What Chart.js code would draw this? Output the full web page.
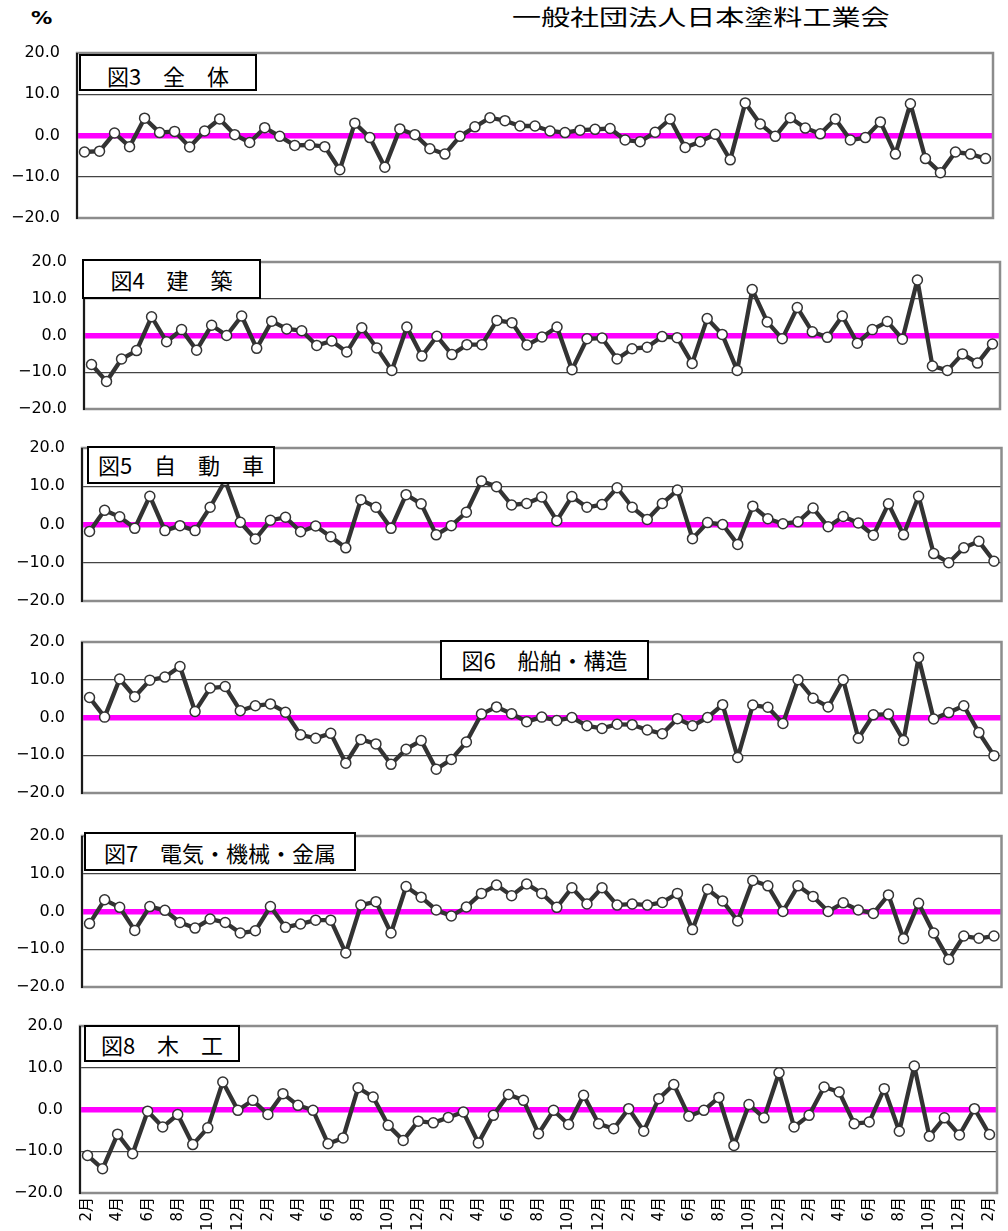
<!DOCTYPE html>
<html><head><meta charset="utf-8">
<script src="https://cdn.jsdelivr.net/npm/chart.js@4/dist/chart.umd.min.js"></script>
<style>
body{margin:0;background:#fff;width:1008px;height:1231px;position:relative;overflow:hidden;}
canvas{position:absolute;left:0;z-index:1;}
.tb{position:absolute;z-index:5;border:2px solid #000;background:#fff;box-sizing:border-box;font-family:'Noto Sans CJK JP';font-size:22px;line-height:22px;text-align:center;color:#000;white-space:nowrap;}
.tb span{position:relative;display:inline-block;}
#pct{position:absolute;left:31px;top:10px;font-family:'DejaVu Sans';font-weight:bold;font-size:17px;line-height:17px;transform:scaleX(1.25);transform-origin:left top;}
#org{position:absolute;left:512px;top:4px;font-family:'Noto Sans CJK JP';font-size:22px;line-height:22px;transform:scaleX(1.32);transform-origin:left top;white-space:nowrap;}
</style></head><body>
<div id="pct">%</div>
<div id="org">一般社団法人日本塗料工業会</div>
<div class="tb" style="left:79px;top:54px;width:178px;height:37px;"><span style="top:8px">図3　全　体</span></div>
<div class="tb" style="left:82px;top:259px;width:179px;height:40px;"><span style="top:7px">図4　建　築</span></div>
<div class="tb" style="left:87px;top:446px;width:188px;height:38px;"><span style="top:5px">図5　自　動　車</span></div>
<div class="tb" style="left:440px;top:640px;width:209px;height:40px;"><span style="top:6px">図6　船舶・構造</span></div>
<div class="tb" style="left:84px;top:832px;width:272px;height:39px;"><span style="top:7px">図7　電気・機械・金属</span></div>
<div class="tb" style="left:84px;top:1025px;width:156px;height:37px;"><span style="top:6px">図8　木　工</span></div>
<script>
const months = ["2月","3月","4月","5月","6月","7月","8月","9月","10月","11月","12月","1月",
"2月","3月","4月","5月","6月","7月","8月","9月","10月","11月","12月","1月",
"2月","3月","4月","5月","6月","7月","8月","9月","10月","11月","12月","1月",
"2月","3月","4月","5月","6月","7月","8月","9月","10月","11月","12月","1月",
"2月","3月","4月","5月","6月","7月","8月","9月","10月","11月","12月","1月",
"2月"];

const yTicks = [-20, -10, 0, 10, 20];

const zentai = [-4.0,-3.8,0.6,-2.7,4.2,0.7,1.0,-2.8,1.1,4.0,
0.2,-1.7,1.9,-0.2,-2.4,-2.3,-2.7,-8.3,3.0,-0.5,
-7.7,1.6,0.2,-3.2,-4.5,-0.2,2.1,4.3,3.6,2.3,
2.3,1.1,0.7,1.3,1.5,1.7,-1.1,-1.5,0.8,4.0,
-2.9,-1.5,0.3,-5.9,7.9,2.8,-0.2,4.3,1.8,0.4,
4.0,-1.1,-0.5,3.3,-4.5,7.7,-5.6,-9.0,-4.0,-4.5,-5.6];

const kenchiku = [-7.9,-12.5,-6.4,-4.1,5.1,-1.7,1.6,-4.0,2.8,0.0,
5.3,-3.5,3.9,1.8,1.3,-2.7,-1.5,-4.5,2.1,-3.4,
-9.5,2.3,-5.6,-0.2,-5.2,-2.5,-2.5,4.1,3.5,-2.6,
-0.4,2.3,-9.3,-0.9,-0.7,-6.4,-3.6,-3.2,-0.3,-0.6,
-7.6,4.6,0.3,-9.5,12.5,3.7,-0.9,7.6,1.0,-0.5,
5.3,-2.1,1.6,3.8,-1.0,15.1,-8.3,-9.5,-5.0,-7.5,-2.3];

const jidosha = [-1.8,3.7,2.0,-1.0,7.4,-1.6,-0.3,-1.6,4.5,11.5,
0.6,-3.8,1.1,1.9,-1.9,-0.4,-3.2,-6.1,6.5,4.5,
-1.0,7.8,5.4,-2.7,-0.3,3.2,11.4,9.9,5.1,5.5,
7.2,1.0,7.3,4.5,5.2,9.6,4.5,1.3,5.5,9.0,
-3.7,0.5,0.0,-5.2,4.8,1.5,0.2,0.7,4.3,-0.6,
2.1,0.4,-2.8,5.4,-2.7,7.4,-7.6,-10.0,-6.1,-4.4,-9.6];

const senpaku = [5.3,0.1,10.2,5.5,9.9,10.7,13.5,1.6,7.8,8.2,
1.8,3.1,3.6,1.4,-4.6,-5.5,-4.2,-12.1,-5.8,-7.0,
-12.4,-8.4,-6.1,-13.7,-11.1,-6.5,0.9,2.8,1.0,-1.1,
0.1,-0.8,0.0,-2.2,-2.9,-1.8,-1.9,-3.3,-4.3,-0.3,
-2.2,0.0,3.4,-10.6,3.3,2.7,-1.6,10.0,5.1,2.8,
10.0,-5.5,0.7,0.9,-6.1,15.9,-0.4,1.3,3.1,-4.0,-10.1];

const denki = [-3.2,3.1,1.1,-5.0,1.3,0.3,-2.9,-4.4,-2.0,-2.9,
-5.7,-5.1,1.3,-4.2,-3.3,-2.3,-2.3,-11.0,1.7,2.6,
-5.7,6.6,3.8,0.4,-1.2,1.2,4.8,7.0,4.2,7.3,
4.8,1.1,6.3,2.0,6.3,1.7,2.0,1.7,2.4,4.8,
-4.8,5.9,2.8,-2.5,8.2,6.8,0.0,6.8,4.0,0.0,
2.3,0.4,-0.5,4.4,-7.2,2.2,-5.7,-12.7,-6.5,-7.1,-6.5];

const mokko = [-11.0,-14.2,-5.9,-10.6,-0.4,-4.2,-1.2,-8.4,-4.4,6.6,
-0.2,2.2,-1.2,3.8,1.0,-0.2,-8.2,-6.8,5.2,3.0,
-3.8,-7.4,-2.8,-3.2,-1.9,-0.6,-8.0,-1.4,3.6,2.2,
-5.8,-0.2,-3.6,3.4,-3.4,-4.6,0.2,-5.2,2.6,6.0,
-1.6,-0.2,2.9,-8.6,1.2,-2.0,8.8,-4.2,-1.4,5.4,
4.2,-3.4,-3.0,5.0,-5.2,10.4,-6.4,-2.0,-6.1,0.2,-6.0];

// layout (plot-area edges in page pixels)
const panels = [
  {data: zentai,   L:77, R:993,  T:53,  B:218},
  {data: kenchiku, L:84, R:1000, T:262, B:409},
  {data: jidosha,  L:82, R:1003, T:448, B:601},
  {data: senpaku,  L:82, R:1003, T:642, B:793},
  {data: denki,    L:82, R:1003, T:836, B:987},
  {data: mokko,    L:80, R:997,  T:1026,B:1193}
];

const framePlugin = {
  id: 'frame',
  beforeDatasetsDraw(chart) {
    const {ctx, chartArea: a} = chart;
    ctx.save();
    ctx.strokeStyle = '#8c8c8c';
    ctx.lineWidth = 2.5;
    ctx.strokeRect(a.left, a.top, a.right - a.left, a.bottom - a.top);
    ctx.strokeStyle = '#1a1a1a';
    ctx.lineWidth = 2;
    ctx.beginPath();
    ctx.moveTo(a.left, a.top);
    ctx.lineTo(a.left, a.bottom + 1);
    ctx.stroke();
    ctx.restore();
  }
};

function zeroPad(s) {
  s.paddingTop = 0; s.paddingBottom = 0; s.paddingLeft = 0; s.paddingRight = 0;
}

const firstBox = document.querySelector('.tb');
panels.forEach((p, idx) => {
  const showX = idx === panels.length - 1;
  const pad = 14;
  const top = p.T - pad;
  const h = showX ? 1231 - top : (p.B - p.T) + 2 * pad;
  const cv = document.createElement('canvas');
  cv.style.top = top + 'px';
  cv.style.width = '1008px';
  cv.style.height = h + 'px';
  cv.width = 1008; cv.height = h;
  document.body.insertBefore(cv, firstBox);
  new Chart(cv, {
    type: 'line',
    data: {
      labels: months,
      datasets: [{
        data: p.data,
        borderColor: '#333333',
        borderWidth: 4.3,
        borderJoinStyle: 'round',
        borderCapStyle: 'round',
        tension: 0,
        pointRadius: 5,
        pointBorderWidth: 1.5,
        pointBackgroundColor: '#ffffff',
        pointBorderColor: '#333333',
        clip: false
      }]
    },
    options: {
      responsive: false,
      animation: false,
      events: [],
      layout: {padding: {left: 0, right: 1008 - p.R, top: pad, bottom: showX ? 0 : pad}},
      plugins: {legend: {display: false}, tooltip: {enabled: false}},
      scales: {
        x: {
          type: 'category',
          offset: true,
          display: showX,
          grid: {display: false, drawTicks: false},
          border: {display: false},
          ticks: {
            autoSkip: false,
            maxRotation: 90,
            minRotation: 90,
            padding: 4,
            color: '#000',
            font: {family: "'DejaVu Sans','Noto Sans CJK JP'", size: 15},
            callback: (v, i) => (i % 2 === 0 ? months[i] : '')
          },
          afterFit: s => { zeroPad(s); if (showX) s.height = 1231 - p.B; }
        },
        y: {
          min: -20,
          max: 20,
          afterBuildTicks: s => { s.ticks = yTicks.map(v => ({value: v})); },
          grid: {
            drawTicks: false,
            color: c => {
              const v = c.tick ? c.tick.value : null;
              if (v === 0) return '#ff00ff';
              if (v === 10 || v === -10) return '#444444';
              return 'rgba(0,0,0,0)';
            },
            lineWidth: c => (c.tick && c.tick.value === 0 ? 5.5 : 1.3)
          },
          border: {display: false},
          ticks: {
            color: '#000',
            padding: 17,
            font: {family: "'DejaVu Sans'", size: 16},
            callback: v => (v < 0 ? '\u2212' : '') + Math.abs(v).toFixed(1)
          },
          afterFit: s => { s.width = p.L; zeroPad(s); }
        }
      }
    },
    plugins: [framePlugin]
  });
});
</script>
</body></html>
